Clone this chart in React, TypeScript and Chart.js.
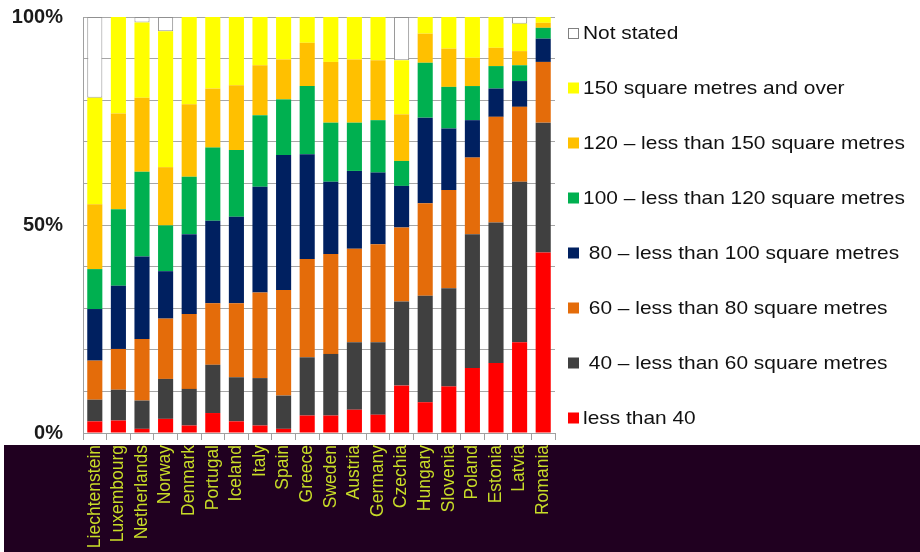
import { useEffect, useRef } from "react";
import { Chart, registerables } from "chart.js";

Chart.register(...registerables);

const countries = [
  "Liechtenstein", "Luxembourg", "Netherlands", "Norway", "Denmark",
  "Portugal", "Iceland", "Italy", "Spain", "Greece",
  "Sweden", "Austria", "Germany", "Czechia", "Hungary",
  "Slovenia", "Poland", "Estonia", "Latvia", "Romania",
];

const lessThan40 = [2.8, 3.0, 1.0, 3.4, 1.8, 4.8, 2.8, 1.8, 1.0, 4.2, 4.2, 5.6, 4.4, 11.4, 7.4, 11.2, 15.6, 16.8, 21.8, 43.4];
const from40to60 = [5.2, 7.4, 6.8, 9.6, 8.8, 11.6, 10.6, 11.4, 8.0, 14.0, 14.8, 16.2, 17.4, 20.2, 25.6, 23.6, 32.2, 33.8, 38.6, 31.2];
const from60to80 = [9.4, 9.8, 14.8, 14.5, 18.0, 14.8, 17.8, 20.6, 25.4, 23.6, 24.0, 22.5, 23.6, 17.8, 22.2, 23.6, 18.4, 25.4, 18.0, 14.6];
const from80to100 = [12.4, 15.2, 19.8, 11.4, 19.2, 19.8, 20.8, 25.4, 32.4, 25.2, 17.4, 18.7, 17.2, 10.0, 20.6, 14.8, 9.0, 6.8, 6.2, 5.6];
const from100to120 = [9.6, 18.4, 20.4, 11.0, 13.8, 17.6, 16.0, 17.2, 13.4, 16.4, 14.2, 11.6, 12.6, 6.0, 13.2, 10.0, 8.2, 5.4, 3.8, 2.6];
const from120to150 = [15.6, 23.0, 17.8, 14.0, 17.4, 14.2, 15.6, 12.0, 9.6, 10.4, 14.6, 15.2, 14.4, 11.2, 7.0, 9.2, 6.8, 4.4, 3.4, 1.2];
const over150 = [25.6, 23.2, 18.1, 32.7, 21.0, 17.2, 16.4, 11.6, 10.2, 6.2, 10.8, 10.2, 10.4, 13.0, 4.0, 7.6, 9.8, 7.4, 6.6, 1.4];
const notStated = [19.4, 0, 1.3, 3.4, 0, 0, 0, 0, 0, 0, 0, 0, 0, 10.4, 0, 0, 0, 0, 1.6, 0];

const seriesLabels = [
  "less than 40",
  " 40 – less than 60 square metres",
  " 60 – less than 80 square metres",
  " 80 – less than 100 square metres",
  "100 – less than 120 square metres",
  "120 – less than 150 square metres",
  "150 square metres and over",
  "Not stated",
];

const yTickValues = [0, 50, 100];
const yTickTexts = ["0%", "50%", "100%"];

const seriesColors = ["#ff0000", "#404040", "#e46c0a", "#002060", "#00b050", "#ffc000", "#ffff00", "#ffffff"];

export default function App() {
  const ref = useRef<HTMLCanvasElement | null>(null);

  useEffect(() => {
    document.body.style.margin = "0";
    const canvas = ref.current;
    if (!canvas) return;

    const bandPlugin = {
      id: "band",
      beforeDraw(chart: any) {
        const { ctx, chartArea } = chart;
        ctx.save();
        ctx.fillStyle = "#ffffff";
        ctx.fillRect(0, 0, chart.width, chart.height);
        ctx.fillStyle = "#200020";
        const top = chartArea.bottom + 12;
        ctx.fillRect(4, top, chart.width - 4, chart.height - top);
        ctx.restore();
      },
    };

    const legendPlugin = {
      id: "customLegend",
      afterDraw(chart: any) {
        const { ctx, chartArea } = chart;
        const ds = chart.data.datasets.slice().reverse();
        ctx.save();
        ds.forEach((d: any, k: number) => {
          const y = chartArea.top + 16 + k * 55;
          const x = chartArea.right + 13;
          if (d.label === "Not stated") {
            ctx.fillStyle = "#ffffff";
            ctx.fillRect(x, y - 5, 10, 10);
            ctx.strokeStyle = "#808080";
            ctx.lineWidth = 1;
            ctx.strokeRect(x + 0.5, y - 4.5, 10, 10);
          } else {
            ctx.fillStyle = d.backgroundColor;
            ctx.fillRect(x, y - 5.5, 11, 11);
          }
          ctx.save();
          ctx.translate(x + 15, y + 1);
          ctx.scale(1.13, 1);
          ctx.font = '18.5px "Liberation Sans", Arial, sans-serif';
          ctx.fillStyle = "#111111";
          ctx.textBaseline = "middle";
          ctx.textAlign = "left";
          ctx.fillText(d.label, 0, 0);
          ctx.restore();
        });
        ctx.restore();
      },
    };

    const values = [lessThan40, from40to60, from60to80, from80to100, from100to120, from120to150, over150, notStated];

    const chart = new Chart(canvas, {
      type: "bar",
      data: {
        labels: countries,
        datasets: values.map((v, i) => ({
          label: seriesLabels[i],
          data: v,
          backgroundColor: seriesColors[i],
          borderColor: i === 7 ? "#909090" : seriesColors[i],
          borderWidth: i === 7 ? 1 : 0,
          borderSkipped: false,
          barPercentage: 0.64,
          categoryPercentage: 1,
        })),
      },
      options: {
        animation: false,
        responsive: false,
        devicePixelRatio: 1,
        layout: { padding: { top: 17, right: 365, left: 0, bottom: 0 } },
        plugins: {
          legend: { display: false },
          tooltip: { enabled: false },
        },
        scales: {
          x: {
            stacked: true,
            grid: {
              offset: true,
              drawOnChartArea: false,
              drawTicks: true,
              tickLength: 7,
              color: "#a0a0a0",
            },
            border: { color: "#a0a0a0" },
            ticks: {
              color: "#c8dc28",
              font: { size: 17.5, family: '"Liberation Sans", Arial, sans-serif' },
              maxRotation: 90,
              minRotation: 90,
              padding: 5,
              autoSkip: false,
            },
            afterFit: (s: any) => {
              s.height = 119;
              s.paddingLeft = 0;
              s.paddingRight = 0;
            },
          },
          y: {
            stacked: true,
            min: 0,
            max: 100,
            grid: { color: "#a6a6a6", drawTicks: false },
            border: { color: "#a0a0a0" },
            ticks: {
              stepSize: 10,
              padding: 20,
              color: "#1a1a1a",
              font: { size: 20, weight: "bold", family: '"Liberation Sans", Arial, sans-serif' },
              callback: (v: any) => {
                const idx = yTickValues.indexOf(Number(v));
                return idx >= 0 ? yTickTexts[idx] : "";
              },
            },
            afterFit: (s: any) => {
              s.width = 83;
              s.paddingTop = 0;
              s.paddingBottom = 0;
            },
          },
        },
      },
      plugins: [bandPlugin, legendPlugin],
    });

    return () => chart.destroy();
  }, []);

  return (
    <div style={{ width: 920, height: 552 }}>
      <canvas ref={ref} width={920} height={552} />
    </div>
  );
}
